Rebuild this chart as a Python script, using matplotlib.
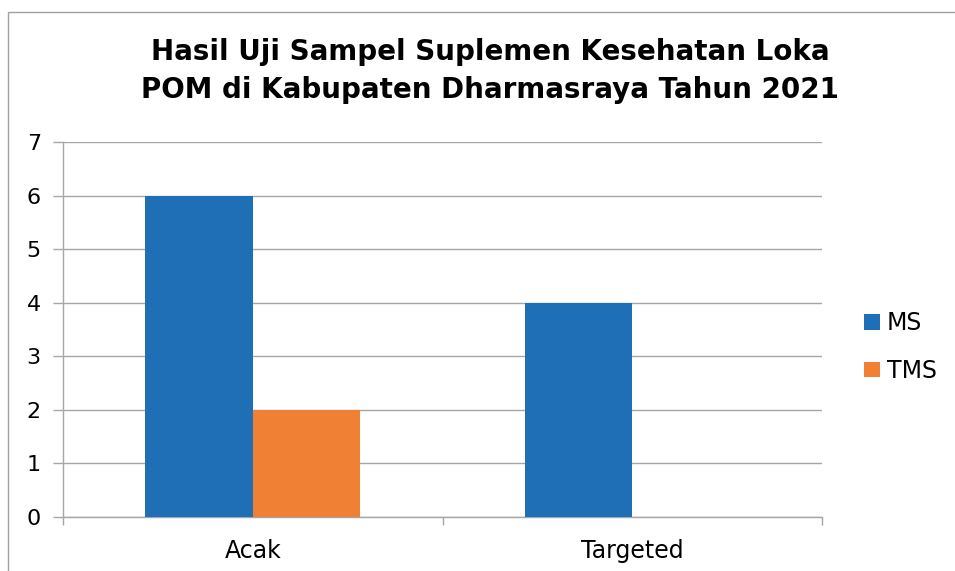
import matplotlib
matplotlib.use("Agg")
import matplotlib.pyplot as plt
import numpy as np
from matplotlib.patches import Rectangle

categories = ["Acak", "Targeted"]
series_names = ["MS", "TMS"]
ms_values = [6, 4]
tms_values = [2, 0]
yticks = [0, 1, 2, 3, 4, 5, 6, 7]
title = "Hasil Uji Sampel Suplemen Kesehatan Loka\nPOM di Kabupaten Dharmasraya Tahun 2021"

colors = ["#1F6FB6", "#F08034"]
grid_c = "#A6A6A6"
plt.rcParams['font.family'] = ['DejaVu Sans']

fig = plt.figure(figsize=(9.55, 5.71), dpi=100)
W, H = 955, 571
# outer frame
fig.patches.append(Rectangle((8 / W, -0.1), 1.2, 1 - 12 / H + 0.1, transform=fig.transFigure,
                             fill=False, edgecolor="#A0A0A0", linewidth=1.0))

ax = fig.add_axes([63 / W, 1 - 517 / H, (822 - 63) / W, (517 - 142) / H])

x = np.arange(len(categories))
bw = 0.283
ax.bar(x - bw / 2, ms_values, bw, color=colors[0], label=series_names[0], zorder=3)
ax.bar(x + bw / 2, tms_values, bw, color=colors[1], label=series_names[1], zorder=3)

ax.set_xlim(-0.5, len(categories) - 0.5)
ax.set_ylim(0, 7)
ax.set_yticks(yticks)
ax.set_yticklabels([str(v) for v in yticks], fontsize=16)
ax.yaxis.grid(True, color=grid_c, linewidth=1.0, zorder=0)
ax.set_axisbelow(True)

ax.set_xticks(np.arange(len(categories) + 1) - 0.5)
ax.set_xticklabels([])
ax.set_xticks(x, minor=True)
ax.set_xticklabels(categories, minor=True, fontsize=17)
ax.tick_params(axis='x', which='major', length=6, color=grid_c, width=1.0)
ax.tick_params(axis='x', which='minor', length=0, pad=16)
ax.tick_params(axis='y', length=7, color=grid_c, width=1.0, pad=9)

for s in ["top", "right"]:
    ax.spines[s].set_visible(False)
for s in ["left", "bottom"]:
    ax.spines[s].set_color(grid_c)
    ax.spines[s].set_linewidth(1.0)

fig.text(490 / W, 1 - 71 / H, title, ha="center", va="center", fontsize=20,
         fontweight="bold", linespacing=1.5)

ax.legend(loc="center left", bbox_to_anchor=(855 / W, 1 - 347 / H), bbox_transform=fig.transFigure,
          frameon=False, fontsize=17, handlelength=0.65, handleheight=0.65, handletextpad=0.3,
          labelspacing=1.0, borderaxespad=0)

fig.savefig("out.png", dpi=100)
